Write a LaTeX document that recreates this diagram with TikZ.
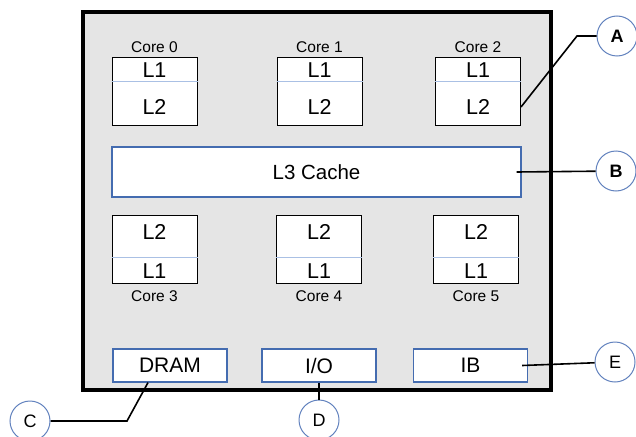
\documentclass[tikz,border=0pt]{standalone}
\usepackage{fontspec}
\setmainfont{Liberation Sans}
\usetikzlibrary{positioning}
\definecolor{partblue}{RGB}{68,108,176}
\definecolor{tagblue}{RGB}{98,130,190}
\definecolor{splitblue}{RGB}{170,192,228}
\begin{document}
\begin{tikzpicture}[x=1pt,y=-1pt,
        core/.style={draw=black,line width=1pt,fill=white,minimum width=85pt,minimum height=68pt,inner sep=0pt},
        corename/.style={inner sep=0pt,font=\fontsize{15.5}{17}\selectfont},
        level/.style={inner sep=0pt,font=\fontsize{21.5}{23}\selectfont},
        divider/.style={draw=splitblue,line width=0.8pt},
        part/.style={draw=partblue,line width=1.2pt,fill=white,inner sep=0pt,minimum width=114pt,minimum height=33pt,font=\fontsize{21}{23}\selectfont},
        tag/.style={circle,draw=tagblue,line width=1pt,fill=white,minimum size=40pt,inner sep=0pt,font=\fontsize{18}{20}\selectfont},
        link/.style={line width=1.6pt,black}]
        \useasboundingbox (0,0) rectangle (636,436);
        % Draw the chip
        \draw[line width=4.5pt,fill=gray!20] (83,12) rectangle (551,390);
        % Draw the top cores
        \node[core] (core0) at (154.5,91) {};
        \draw[divider] ([yshift=-25pt]core0.north west) -- ([yshift=-25pt]core0.north east);
        \node[level] (c0l1) at (154.5,70) {L1};
        \node[level] (c0l2) at (154.5,107) {L2};
        \node[corename,above=4pt of core0] (n0) {Core 0};
        \node[core] (core1) at (319.5,91) {};
        \draw[divider] ([yshift=-25pt]core1.north west) -- ([yshift=-25pt]core1.north east);
        \node[level] (c1l1) at (319.5,70) {L1};
        \node[level] (c1l2) at (319.5,107) {L2};
        \node[corename,above=4pt of core1] (n1) {Core 1};
        \node[core] (core2) at (478,91) {};
        \draw[divider] ([yshift=-25pt]core2.north west) -- ([yshift=-25pt]core2.north east);
        \node[level] (c2l1) at (478,70) {L1};
        \node[level] (c2l2) at (478,107) {L2};
        \node[corename,above=4pt of core2] (n2) {Core 2};
        % Draw the shared cache
        \node[part,minimum width=409pt,minimum height=50pt,font=\fontsize{20.5}{22}\selectfont] (l3) at (316.5,172) {L3 Cache};
        % Draw the bottom cores
        \node[core] (core3) at (154.5,249) {};
        \draw[divider] ([yshift=-43pt]core3.north west) -- ([yshift=-43pt]core3.north east);
        \node[level] (c3l2) at (154.5,232) {L2};
        \node[level] (c3l1) at (154.5,271) {L1};
        \node[corename,below=7pt of core3] (n3) {Core 3};
        \node[core] (core4) at (319,249) {};
        \draw[divider] ([yshift=-43pt]core4.north west) -- ([yshift=-43pt]core4.north east);
        \node[level] (c4l2) at (319,232) {L2};
        \node[level] (c4l1) at (319,271) {L1};
        \node[corename,below=7pt of core4] (n4) {Core 4};
        \node[core] (core5) at (476,249) {};
        \draw[divider] ([yshift=-43pt]core5.north west) -- ([yshift=-43pt]core5.north east);
        \node[level] (c5l2) at (476,232) {L2};
        \node[level] (c5l1) at (476,271) {L1};
        \node[corename,below=7pt of core5] (n5) {Core 5};
        % Draw the interfaces
        \node[part] (dram) at (170,365.5) {DRAM};
        \node[part] (io) at (319,365.5) {I/O};
        \node[part] (ib) at (470.5,365.5) {IB};
        % Draw the callouts
        \node[tag,font=\fontsize{18}{20}\selectfont\bfseries] (A) at (617,36) {A};
        \node[tag,font=\fontsize{18}{20}\selectfont\bfseries] (B) at (616,171) {B};
        \node[tag] (C) at (30,421) {C};
        \node[tag] (D) at (319,420) {D};
        \node[tag] (E) at (615,362) {E};
        \coordinate (bendA) at (577,36);
        \coordinate (bendC) at (127,421);
        \draw[link] (core2.east |- c2l2) -- (bendA) -- (A);
        \draw[link] ([xshift=-5pt]l3.east) -- (B);
        \draw[link] (C) -- (bendC) -- ([xshift=-22pt]dram.south);
        \draw[link] (io.south) -- (D);
        \draw[link] ([xshift=-6pt]ib.east) -- (E);
    \end{tikzpicture}
\end{document}
